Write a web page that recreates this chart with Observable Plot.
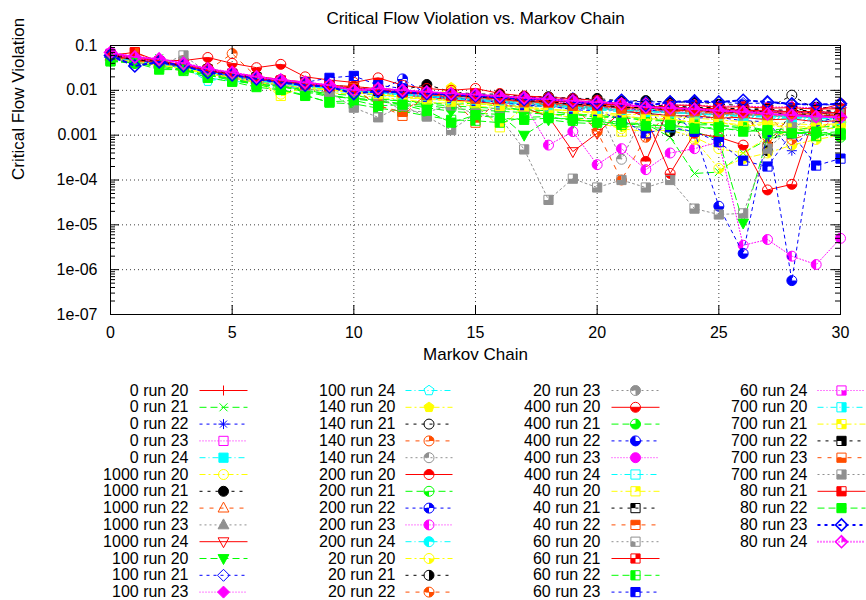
<!DOCTYPE html>
<html><head><meta charset="utf-8">
<script src="https://cdn.jsdelivr.net/npm/d3@7"></script>
<script src="https://cdn.jsdelivr.net/npm/@observablehq/plot@0.6"></script>
<style>body{margin:0;background:#fff}svg{display:block}</style>
</head><body><div id="chart"></div><div id="legend"></div><script>
const chartTitle = "Critical Flow Violation vs. Markov Chain";
const xLabel = "Markov Chain";
const yLabel = "Critical Flow Violation";
const chains = [0,1,2,3,4,5,6,7,8,9,10,11,12,13,14,15,16,17,18,19,20,21,22,23,24,25,26,27,28,29,30];
const xTicks = [0,5,10,15,20,25,30];
const yTicks = [1e-7,1e-6,1e-5,1e-4,1e-3,1e-2,1e-1];
const yTickLabels = ["1e-07","1e-06","1e-05","1e-04","0.001","0.01","0.1"];
const seriesNames = ["0 run 20","0 run 21","0 run 22","0 run 23","0 run 24","1000 run 20","1000 run 21","1000 run 22","1000 run 23","1000 run 24","100 run 20","100 run 21","100 run 23","100 run 24","140 run 20","140 run 21","140 run 23","140 run 24","200 run 20","200 run 21","200 run 22","200 run 23","200 run 24","20 run 20","20 run 21","20 run 22","20 run 23","400 run 20","400 run 21","400 run 22","400 run 23","400 run 24","40 run 20","40 run 21","40 run 22","60 run 20","60 run 21","60 run 22","60 run 23","60 run 24","700 run 20","700 run 21","700 run 22","700 run 23","700 run 24","80 run 21","80 run 22","80 run 23","80 run 24"];

const r0_20 = [.062,.051,.046,.034,.029,.023,.021,.015,.014,.0125,.0105,.0098,.0088,.0082,.0068,.0066,.0058,.0056,.0049,.0047,.0046,.0041,.0042,.0037,.0037,.0034,.0035,.0032,.0033,.003,.0031];
const r0_21 = [.055,.042,.052,.031,.025,.019,.017,.012,.0105,.0078,.0065,.0062,.0058,.0054,.0048,.0052,.0044,.0036,.0031,.0024,.0023,.0019,.0018,.0009,.00014,.00015,.0004,.0008,.0011,.0012,.0016];
const r0_22 = [.058,.039,.045,.029,.026,.021,.0155,.0152,.0128,.0112,.0098,.0092,.0083,.0076,.0064,.0062,.0054,.0051,.0044,.0041,.0037,.0036,.0029,.0029,.0024,.0025,.0021,.002,.00045,.0021,.0019];
const r0_23 = [.066,.047,.041,.033,.028,.021,.0185,.0145,.0134,.0118,.0102,.0088,.0082,.0071,.0066,.0059,.0056,.0049,.0047,.0041,.0041,.0037,.0037,.0033,.0033,.0029,.003,.0027,.0028,.0025,.0026];
const r0_24 = [.050,.046,.039,.031,.019,.016,.0145,.0118,.0112,.0093,.0091,.0076,.0072,.0063,.0061,.0054,.0051,.0044,.0043,.0039,.0037,.0033,.0031,.0027,.0028,.0025,.0026,.0023,.0024,.0021,.0022];
const r1000_20 = [.060,.044,.041,.032,.027,.019,.0165,.0082,.0112,.0088,.0082,.0068,.0064,.0053,.0052,.0044,.0041,.0034,.0031,.0024,.0019,.0014,.0012,.0013,.0009,.0005,.0004,.0009,.0012,.0015,.0017];
const r1000_21 = [.061,.049,.046,.035,.031,.023,.0185,.0158,.0143,.0127,.0122,.0108,.0102,.0135,.0092,.0083,.0082,.0073,.0072,.0066,.0066,.0058,.0059,.0054,.0056,.0049,.0046,.00045,.0035,.0042,.004];
const r1000_22 = [.058,.047,.041,.036,.026,.022,.0172,.0148,.0133,.0108,.0102,.0088,.0084,.0074,.0071,.0064,.0061,.0054,.0051,.0047,.0047,.0043,.0043,.0039,.0039,.0036,.0037,.0034,.0035,.0032,.0033];
const r1000_23 = [.056,.043,.039,.031,.025,.0205,.0158,.0142,.0118,.0106,.0093,.0087,.0079,.0069,.0065,.0057,.0053,.0047,.0045,.0039,.0039,.0035,.0035,.0031,.0031,.0028,.0029,.0026,.0027,.0024,.0025];
const r1000_24 = [.060,.048,.043,.035,.027,.021,.017,.015,.013,.011,.0098,.0092,.0078,.0072,.0061,.0056,.0049,.0041,.0026,.00043,.0011,.0034,.0031,.0027,.0027,.0024,.0025,.0022,.0023,.002,.0021];
const r100_20 = [.045,.041,.035,.029,.022,.017,.0138,.0121,.0099,.0076,.0064,.0056,.0049,.0041,.0034,.0031,.0029,.001,.0022,.0019,.0018,.0016,.0015,.0014,.0012,.0008,.000011,.0009,.0013,.0015,.0016];
const r100_21 = [.055,.035,.046,.030,.024,.020,.0158,.0142,.0128,.0121,.0108,.0102,.0094,.0091,.0084,.0081,.0074,.0071,.0067,.0066,.0059,.0059,.0055,.0056,.0053,.0054,.0051,.0052,.0049,.0049,.0046];
const r100_23 = [.070,.050,.046,.035,.029,.023,.0182,.0158,.0142,.0118,.0112,.0096,.0092,.0084,.0081,.0074,.0071,.0064,.0061,.0057,.0056,.0051,.0051,.0047,.0047,.0044,.0045,.0042,.0043,.004,.0041];
const r100_24 = [.058,.045,.040,.033,.016,.020,.0158,.0142,.0122,.0112,.0093,.0089,.0081,.0077,.0069,.0066,.0059,.0056,.0049,.0047,.0041,.0041,.0037,.0037,.0033,.0033,.0029,.003,.0027,.0028,.0026];
const r140_20 = [.052,.044,.037,.031,.023,.0195,.0148,.0132,.0112,.0102,.0088,.0082,.0071,.0066,.0115,.0051,.0044,.0041,.0034,.0031,.0027,.0027,.0023,.0023,.0019,.0019,.0017,.0018,.0015,.0016,.0013];
const r140_21 = [.064,.051,.043,.037,.027,.0235,.0185,.0163,.0137,.0122,.0108,.0102,.0088,.0087,.0078,.0076,.0068,.0066,.0058,.0056,.0049,.0049,.0045,.0045,.0041,.0041,.0038,.0039,.0078,.0036,.0034];
const r140_23 = [.060,.048,.042,.035,.028,.066,.020,.017,.015,.013,.012,.0108,.0102,.0088,.0081,.0071,.0066,.0057,.0053,.0047,.0046,.0041,.0041,.0037,.0036,.0019,.0034,.0006,.0032,.003,.0029];
const r140_24 = [.058,.046,.044,.036,.026,.021,.0172,.0148,.0132,.0108,.0099,.0087,.0081,.0071,.0066,.0059,.0056,.0049,.0046,.0041,.0039,.00029,.0036,.0032,.0032,.0029,.003,.0027,.0028,.0025,.0026];
const r200_20 = [.065,.050,.046,.036,.031,.0235,.0205,.0175,.0152,.0128,.0122,.0108,.0102,.0088,.0086,.0078,.0076,.0068,.0066,.0058,.0056,.0051,.00026,.0047,.0046,.0042,.0043,.004,.0041,.0038,.0039];
const r200_21 = [.050,.040,.037,.029,.022,.0182,.0138,.0122,.0093,.0072,.0068,.0058,.0051,.0046,.0039,.0037,.0034,.0032,.0029,.0029,.0025,.0025,.0021,.0021,.0017,.0017,.0014,.0013,.0011,.0011,.0009];
const r200_22 = [.056,.045,.041,.033,.028,.0215,.0185,.0155,.0142,.0118,.0112,.0096,.018,.0083,.0081,.0073,.0071,.0063,.0061,.0054,.0051,.0046,.0045,.0041,.0041,.0037,.0037,.0034,.0035,.0032,.0033];
const r200_23 = [.060,.046,.042,.034,.027,.0225,.0178,.0152,.0133,.0116,.0103,.0097,.0083,.0079,.0069,.0063,.0054,.0049,.0006,.0012,.00022,.0005,.00017,.0004,.0005,.0007,.0000035,.0000047,.000002,.0000013,.000005];
const r200_24 = [.060,.047,.039,.034,.026,.0212,.0168,.0152,.0128,.0112,.0098,.0092,.0081,.0077,.0069,.0065,.0057,.0054,.0047,.0045,.0039,.0038,.0033,.0033,.0029,.0029,.0026,.0027,.0024,.0025,.0022];
const r20_20 = [.055,.044,.039,.030,.025,.0198,.0162,.0138,.0122,.0103,.0095,.0081,.0075,.0064,.0059,.0051,.0048,.0041,.0039,.0034,.0033,.0029,.0029,.0025,.0008,.00018,.0003,.0004,.0006,.0008,.001];
const r20_21 = [.062,.048,.044,.034,.029,.0225,.0185,.0155,.0142,.0118,.0112,.0098,.0094,.0083,.0079,.0071,.0067,.0059,.0056,.0049,.0047,.0042,.0041,.0012,.0039,.0035,.0036,.0033,.0034,.0031,.0032];
const r20_22 = [.060,.047,.042,.033,.028,.0215,.0182,.0158,.0138,.0122,.0108,.0102,.0088,.0084,.0075,.0071,.0063,.0059,.0052,.0049,.0012,.0001,.0009,.0036,.0034,.0032,.003,.0029,.0008,.0012,.0028];
const r20_23 = [.057,.044,.040,.031,.026,.0208,.0172,.0138,.0122,.0105,.0099,.0086,.0082,.0071,.0068,.006,.0057,.005,.0048,.0042,.0041,.0036,.0035,.0031,.0031,.0028,.0029,.0026,.0027,.0024,.0025];
const r400_20 = [.066,.055,.047,.046,.054,.040,.032,.038,.020,.017,.015,.019,.013,.011,.010,.011,.0085,.0075,.007,.0065,.006,.0042,.0025,.00014,.0011,.0009,.0006,.00006,.00008,.0035,.005];
const r400_21 = [.048,.040,.038,.030,.023,.0182,.0148,.0128,.0102,.0083,.0077,.0064,.0059,.0049,.0045,.0042,.0039,.0037,.0035,.0029,.0028,.0024,.0024,.002,.002,.0016,.0016,.0013,.0014,.0011,.0012];
const r400_22 = [.058,.046,.041,.034,.027,.022,.018,.016,.014,.0122,.0108,.0099,.0088,.0084,.0075,.0071,.0063,.0059,.0052,.0049,.0043,.0041,.0036,.0034,.0012,.000026,.0000023,.0011,.00000057,.002,.0025];
const r400_23 = [.063,.049,.043,.036,.028,.023,.019,.016,.014,.012,.011,.0102,.0091,.0088,.0078,.0076,.0066,.0063,.0055,.0053,.0047,.0046,.0041,.0041,.0037,.0037,.0034,.0035,.0032,.0033,.003];
const r400_24 = [.055,.043,.040,.031,.026,.0205,.0172,.0138,.0122,.0108,.0099,.0086,.0081,.0071,.0067,.0059,.0056,.0049,.0047,.0041,.004,.0035,.0035,.0031,.0031,.0027,.0028,.0025,.0026,.0023,.0024];
const r40_20 = [.053,.043,.038,.031,.025,.0205,.0158,.0075,.0122,.0103,.0095,.0081,.0069,.0063,.0059,.0051,.0015,.0042,.0038,.0035,.0032,.0012,.0028,.0026,.0024,.0022,.002,.0019,.0018,.0017,.0018];
const r40_21 = [.060,.048,.041,.036,.027,.0235,.0185,.0163,.0137,.0123,.0107,.0103,.0088,.0087,.0078,.0077,.0068,.0066,.0059,.0057,.0051,.005,.0045,.0045,.0041,.0041,.0037,.0038,.0035,.0036,.0033];
const r40_22 = [.060,.070,.042,.037,.028,.0235,.0185,.0165,.0135,.0124,.0107,.0048,.0027,.0081,.0069,.0019,.0067,.0051,.0048,.0042,.0046,.0041,.0041,.0037,.0037,.0033,.0033,.003,.0031,.0028,.0029];
const r60_20 = [.056,.046,.039,.034,.025,.0215,.0165,.0152,.0128,.0113,.0097,.0072,.0035,.0033,.0046,.0030,.0044,.0043,.0045,.0044,.0039,.0038,.0033,.0033,.0029,.003,.0027,.0028,.0025,.0026,.0023];
const r60_21 = [.061,.047,.043,.034,.029,.0215,.0185,.0155,.0143,.0117,.0113,.0097,.0093,.0081,.0078,.0068,.0066,.0056,.0055,.0047,.0047,.004,.0041,.0035,.0037,.0031,.0033,.0029,.003,.0027,.0028];
const r60_22 = [.046,.041,.033,.027,.022,.0165,.0135,.0105,.0078,.0053,.0050,.0040,.0034,.0027,.0022,.0021,.0019,.0025,.0026,.0021,.0021,.0017,.0018,.0015,.0016,.0013,.0014,.0011,.0012,.00095,.0011];
const r60_23 = [.057,.044,.041,.032,.027,.0205,.0175,.0145,.015,.019,.021,.013,.011,.0072,.0069,.0058,.0056,.0046,.0045,.0037,.0035,.0022,.0011,.0015,.0012,.0007,.00027,.0002,.0011,.00021,.0003];
const r60_24 = [.064,.051,.043,.037,.028,.0235,.0185,.0165,.0137,.0124,.0107,.0103,.009,.0088,.0078,.0076,.0066,.0065,.0056,.0056,.0048,.0049,.0042,.0044,.0038,.004,.0035,.0036,.0033,.0034,.0031];
const r700_20 = [.054,.045,.038,.033,.025,.0215,.0165,.0142,.0118,.0112,.0096,.009,.0078,.0075,.0064,.0062,.0053,.0052,.0044,.0043,.0038,.0037,.0033,.0033,.0029,.0029,.0026,.0027,.0024,.0025,.0022];
const r700_21 = [.052,.043,.036,.031,.023,.0195,.0145,.0135,.0112,.0103,.0087,.0083,.0069,.0067,.0056,.0054,.0045,.0044,.0036,.0036,.0029,.0028,.0023,.0023,.0019,.0019,.0016,.0017,.0014,.0015,.0019];
const r700_22 = [.062,.047,.044,.034,.029,.0225,.0195,.0155,.0143,.0117,.0113,.0097,.0095,.0082,.008,.007,.0068,.0058,.0057,.0048,.0048,.0042,.0041,.0037,.0037,.0033,.0033,.003,.0031,.0028,.0029];
const r700_23 = [.058,.045,.042,.033,.028,.0215,.0185,.0155,.0142,.0118,.0112,.0045,.0033,.0078,.0075,.0065,.0063,.0054,.0053,.0045,.0045,.0039,.0038,.0034,.0034,.003,.0031,.0028,.0029,.0026,.0027];
const r700_24 = [.050,.042,.036,.060,.025,.019,.015,.013,.011,.009,.0041,.0025,.0045,.0026,.0013,.003,.0025,.00048,.000036,.000107,.000068,.0001,.000068,.0001,.000023,.000017,.000018,.0005,.0015,.0025,.0034];
const r80_21 = [.059,.071,.044,.037,.027,.0225,.0175,.0165,.0135,.0124,.0106,.0103,.009,.0088,.0077,.0076,.0066,.0065,.0056,.0056,.0048,.0049,.0042,.0044,.0038,.004,.0035,.0036,.0033,.0034,.0031];
const r80_22 = [.044,.041,.029,.029,.019,.0155,.0118,.0102,.0075,.0055,.0060,.0045,.0048,.0035,.0019,.0028,.0024,.0022,.0024,.0023,.0019,.0019,.0016,.0017,.0014,.0015,.0012,.0013,.0011,.0012,.001];
const r80_23 = [.060,.035,.043,.035,.025,.022,.018,.015,.013,.012,.0085,.0095,.009,.0085,.008,.0075,.007,.0062,.0065,.0055,.005,.006,.0045,.0055,.0058,.0055,.006,.0055,.005,.0048,.005];
const r80_24 = [.070,.055,.050,.040,.030,.025,.020,.017,.015,.013,.010,.011,.010,.0092,.0085,.008,.0074,.0068,.0063,.0058,.0054,.005,.0042,.004,.0038,.0035,.0033,.003,.0028,.0026,.0025];

const seriesValues = [r0_20,r0_21,r0_22,r0_23,r0_24,r1000_20,r1000_21,r1000_22,r1000_23,r1000_24,r100_20,r100_21,r100_23,r100_24,r140_20,r140_21,r140_23,r140_24,r200_20,r200_21,r200_22,r200_23,r200_24,r20_20,r20_21,r20_22,r20_23,r400_20,r400_21,r400_22,r400_23,r400_24,r40_20,r40_21,r40_22,r60_20,r60_21,r60_22,r60_23,r60_24,r700_20,r700_21,r700_22,r700_23,r700_24,r80_21,r80_22,r80_23,r80_24];

// gnuplot-like line types
const palette = ["#ff0000","#00ff00","#0000ff","#ff00ff","#00ffff","#ffff00","#000000","#ff4d00","#909090"];
const dashes = [null,"7,4","3,4","1,2","6,3,1,3","6,3,2,3","3,5","4,6","2,3"];

const R = 5;
function poly(c, pts){ c.moveTo(pts[0][0],pts[0][1]); for (let i=1;i<pts.length;i++) c.lineTo(pts[i][0],pts[i][1]); c.closePath(); }
const SQ = R*0.92, TR = R*1.2, DI = R*1.2;
const shapes = {
  plus: {draw(c){c.moveTo(-R,0);c.lineTo(R,0);c.moveTo(0,-R);c.lineTo(0,R);}},
  cross: {draw(c){const a=R*0.8;c.moveTo(-a,-a);c.lineTo(a,a);c.moveTo(-a,a);c.lineTo(a,-a);}},
  star: {draw(c){const a=R*0.7;c.moveTo(-R,0);c.lineTo(R,0);c.moveTo(0,-R);c.lineTo(0,R);c.moveTo(-a,-a);c.lineTo(a,a);c.moveTo(-a,a);c.lineTo(a,-a);}},
  square: {draw(c){poly(c,[[-SQ,-SQ],[SQ,-SQ],[SQ,SQ],[-SQ,SQ]]);}},
  circle: {draw(c){c.moveTo(R,0);c.arc(0,0,R,0,2*Math.PI);c.closePath();}},
  triangle: {draw(c){poly(c,[[0,-TR],[TR*0.9,TR*0.65],[-TR*0.9,TR*0.65]]);}},
  triangleDown: {draw(c){poly(c,[[0,TR],[TR*0.9,-TR*0.65],[-TR*0.9,-TR*0.65]]);}},
  diamond: {draw(c){poly(c,[[0,-DI],[DI,0],[0,DI],[-DI,0]]);}},
  pentagon: {draw(c){const p=[];for(let i=0;i<5;i++){const a=-Math.PI/2+i*2*Math.PI/5;p.push([R*1.05*Math.cos(a),R*1.05*Math.sin(a)]);}poly(c,p);}}
};
function quadSymbol(shape, mask){
  return {draw(c){
    for (let q=0;q<4;q++){
      if (!((mask>>q)&1)) continue;
      if (shape==="circle"){
        const ang=[[-Math.PI/2,0],[-Math.PI,-Math.PI/2],[Math.PI/2,Math.PI],[0,Math.PI/2]][q];
        c.moveTo(0,0); c.arc(0,0,R,ang[0],ang[1]); c.closePath();
      } else if (shape==="square"){
        const a=SQ;
        poly(c,[[[0,-a],[a,-a],[a,0],[0,0]],[[-a,-a],[0,-a],[0,0],[-a,0]],[[-a,0],[0,0],[0,a],[-a,a]],[[0,0],[a,0],[a,a],[0,a]]][q]);
      } else {
        const a=DI;
        poly(c,[[[0,0],[0,-a],[a,0]],[[0,0],[-a,0],[0,-a]],[[0,0],[-a,0],[0,a]],[[0,0],[a,0],[0,a]]][q]);
      }
    }
  }};
}
const baseShapes = ["plus","cross","star","square","square","circle","circle","triangle","triangle","triangleDown","triangleDown","diamond","diamond","pentagon","pentagon"];
const baseFilled = [0,0,0,0,1,0,1,0,1,0,1,0,1,0,1];
function styleFor(k){ // k: 1-based point type
  const color = palette[(k-1)%9];
  const dash = dashes[(k-1)%9];
  const width = k>=48 ? 2 : 1;
  let shape, filled=false, mask=0;
  if (k<=15){ shape=baseShapes[k-1]; filled=!!baseFilled[k-1]; }
  else if (k<=31){ shape="circle"; mask=k-16; }
  else if (k<=47){ shape="square"; mask=k-32; }
  else { shape="diamond"; mask=k-48; }
  return {color,dash,width,shape,filled,mask};
}
function pointMarks(data, st, xk, yk){
  const m = [];
  m.push(Plot.dot(data,{x:xk,y:yk,r:R,symbol:shapes[st.shape],stroke:st.color,strokeWidth:st.width>1?1.6:1,fill:st.filled?st.color:"none"}));
  if (st.mask>0) m.push(Plot.dot(data,{x:xk,y:yk,r:R,symbol:quadSymbol(st.shape,st.mask),fill:st.color,stroke:"none"}));
  return m;
}

// minor y ticks
const yMinor = [];
for (let e=-7;e<-1;e++) for (let m=2;m<=9;m++) yMinor.push(m*Math.pow(10,e));

const frameW = 730, frameH = 269;
const marks = [
  Plot.ruleX(xTicks,{x:d=>d,stroke:"#000",strokeOpacity:0.75,strokeDasharray:"1,3"}),
  Plot.ruleY(yTicks,{y:d=>d,stroke:"#000",strokeOpacity:0.75,strokeDasharray:"1,3"})
];
seriesValues.forEach((vals,i)=>{
  const st = styleFor(i+1);
  const data = vals.map((v,j)=>({x:chains[j],y:v}));
  marks.push(Plot.line(data,{x:"x",y:"y",stroke:st.color,strokeWidth:st.width,strokeDasharray:st.dash||undefined}));
  marks.push(...pointMarks(data,st,"x","y"));
});
marks.push(
  Plot.tickY(yTicks,{y:d=>d,insetRight:frameW-9,stroke:"#000"}),
  Plot.tickY(yTicks,{y:d=>d,insetLeft:frameW-9,stroke:"#000"}),
  Plot.tickY(yMinor,{y:d=>d,insetRight:frameW-5,stroke:"#000"}),
  Plot.tickY(yMinor,{y:d=>d,insetLeft:frameW-5,stroke:"#000"}),
  Plot.tickX(xTicks,{x:d=>d,insetTop:frameH-9,stroke:"#000"}),
  Plot.tickX(xTicks,{x:d=>d,insetBottom:frameH-9,stroke:"#000"}),
  Plot.frame({stroke:"#000",strokeWidth:1}),
  Plot.text([chartTitle],{frameAnchor:"top",dy:-27,lineAnchor:"middle",text:d=>d,fontSize:17}),
  Plot.text([xLabel],{frameAnchor:"bottom",dy:40,lineAnchor:"middle",text:d=>d,fontSize:17}),
  Plot.text([yLabel],{frameAnchor:"left",dx:-92,rotate:-90,lineAnchor:"middle",text:d=>d,fontSize:17})
);

const font = "'Liberation Sans', Arial, sans-serif";
const chart = Plot.plot({
  width:866, height:370,
  marginTop:45, marginBottom:56, marginLeft:110, marginRight:26,
  style:{fontFamily:font,fontSize:"16px",background:"#fff",color:"#000"},
  x:{domain:[0,30],ticks:xTicks,tickSize:0,tickPadding:12,tickFormat:d=>String(d),label:null},
  y:{type:"log",domain:[1e-7,0.1],ticks:yTicks,tickSize:0,tickPadding:13,tickFormat:d=>yTickLabels[yTicks.indexOf(d)],label:null},
  marks
});
document.getElementById("chart").appendChild(chart);

// legend
const textRight = [188,395,600,807];
const lineLeft = [199,405,611,817];
const lineRight = [247,452,659,865];
const legendRows = seriesNames.map((name,k)=>{
  const col = Math.floor(k/13), row = k%13;
  return {name, k, tx:textRight[col], ty:20+16.8*row, l:lineLeft[col], r:lineRight[col], m:(lineLeft[col]+lineRight[col])/2};
});
const lmarks = [Plot.text(legendRows,{x:"tx",y:"ty",text:"name",textAnchor:"end",fontSize:16})];
legendRows.forEach(row=>{
  const st = styleFor(row.k+1);
  lmarks.push(Plot.link([row],{x1:"l",x2:"r",y1:"ty",y2:"ty",stroke:st.color,strokeWidth:st.width,strokeDasharray:st.dash||undefined}));
  lmarks.push(...pointMarks([row],st,"m","ty"));
});
const legend = Plot.plot({
  width:866, height:230, margin:0,
  style:{fontFamily:font,fontSize:"16px",background:"#fff",color:"#000"},
  x:{domain:[0,866],range:[0,866],axis:null},
  y:{domain:[0,230],range:[0,230],axis:null},
  marks:lmarks
});
document.getElementById("legend").appendChild(legend);
</script></body></html>
